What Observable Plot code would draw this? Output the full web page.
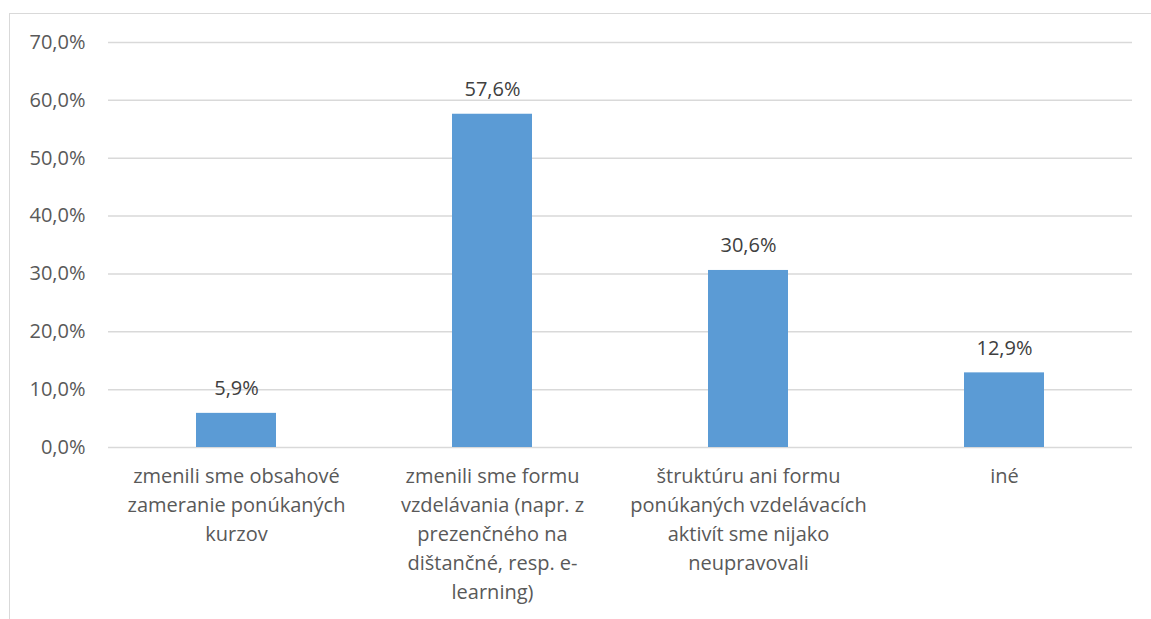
<!DOCTYPE html>
<html><head><meta charset="utf-8">
<script src="https://cdn.jsdelivr.net/npm/d3@7"></script>
<script src="https://cdn.jsdelivr.net/npm/@observablehq/plot@0.6"></script>
<style>
html,body{margin:0;padding:0;background:#fff;overflow:hidden;}
#wrap{position:relative;width:1151px;height:619px;}
#border{position:absolute;left:9px;top:13px;width:1200px;height:700px;border:1.5px solid #d9d9d9;box-sizing:border-box;}
#chart{position:absolute;left:0;top:0;}
</style></head>
<body><div id="wrap"><div id="border"></div><div id="chart"></div></div>
<script>
const categories = [
  "zmenili sme obsahové\nzameranie ponúkaných\nkurzov",
  "zmenili sme formu\nvzdelávania (napr. z\nprezenčného na\ndištančné, resp. e-\nlearning)",
  "štruktúru ani formu\nponúkaných vzdelávacích\naktivít sme nijako\nneupravovali",
  "iné"
];
const values = [5.9, 57.6, 30.6, 12.9];
const yTicks = [0, 10, 20, 30, 40, 50, 60, 70];

const data = categories.map((c, i) => ({cat: c, v: values[i]}));
const fmt = v => v.toFixed(1).replace(".", ",") + "%";

const chart = Plot.plot({
  width: 1151,
  height: 619,
  marginLeft: 108,
  marginRight: 19,
  marginTop: 42,
  marginBottom: 172,
  style: {fontFamily: "'Open Sans', sans-serif", fontSize: "20px", color: "#595959", background: "transparent"},
  x: {domain: categories, paddingInner: 0.6875, paddingOuter: 0.34375, label: null},
  y: {domain: [0, 70], label: null},
  marks: [
    Plot.gridY(yTicks, {stroke: "#d9d9d9", strokeOpacity: 1, strokeWidth: 1.5}),
    Plot.barY(data, {x: "cat", y: "v", fill: "#5b9bd5"}),
    Plot.text(data, {x: "cat", y: "v", text: d => fmt(d.v), dy: -18, lineAnchor: "bottom", fill: "#404040", fontSize: 20}),
    Plot.axisY({ticks: yTicks, tickSize: 0, tickPadding: 23, tickFormat: fmt, fill: "#595959", fontSize: 20}),
    Plot.axisX({tickSize: 0, tickPadding: 15, lineHeight: 1.45, fill: "#595959", fontSize: 20, lineAnchor: "top"})
  ]
});
document.getElementById("chart").appendChild(chart);
</script></body></html>
